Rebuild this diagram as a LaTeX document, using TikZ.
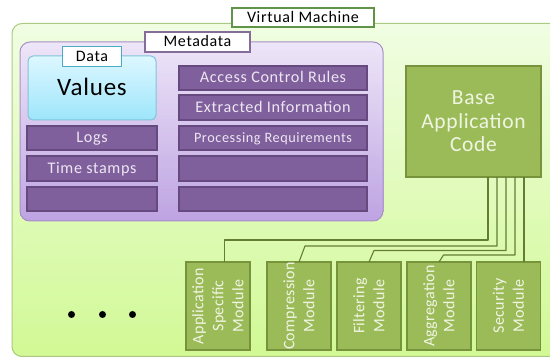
\documentclass[tikz,border=0pt]{standalone}
\usepackage{fontspec}
\setmainfont{Carlito}
\usetikzlibrary{calc}
\definecolor{purp}{HTML}{7F609D}
\definecolor{purpd}{HTML}{65497F}
\definecolor{purpedge}{HTML}{A88FC6}
\definecolor{grn}{HTML}{9BBB59}
\definecolor{grnd}{HTML}{77933C}
\definecolor{ptxt}{HTML}{EDE6F2}
\definecolor{gtxt}{HTML}{F0F5E3}
\definecolor{vmtop}{HTML}{F0FDE2}
\definecolor{vmbot}{HTML}{D2F996}
\definecolor{vmedge}{HTML}{ABC982}
\definecolor{mdtop}{HTML}{EDE5F8}
\definecolor{mdbot}{HTML}{BEA4E2}
\definecolor{valtop}{HTML}{DDF7FF}
\definecolor{valbot}{HTML}{9FE6FB}
\definecolor{valedge}{HTML}{7FC4DA}
\definecolor{dataedge}{HTML}{4BACC6}
\tikzset{
  x=1pt,y=-1pt,
  every node/.style={inner sep=0pt,outer sep=0pt,align=center},
  gradfill/.style 2 args={path picture={
    \foreach \i in {0,...,50}{
      \pgfmathsetmacro{\pc}{100-2*\i}
      \pgfmathsetmacro{\fr}{\i/51}
      \fill[#1!\pc!#2] ($(path picture bounding box.north west)!\fr!(path picture bounding box.south west)$) rectangle (path picture bounding box.south east);
    }}},
  pbox/.style={draw=purpd,fill=purp,line width=1.2pt,text=ptxt,minimum width=#1,minimum height=24pt,text height=11pt,text depth=1pt,font=\fontsize{16.2}{19}\selectfont\addfontfeature{LetterSpace=4}},
  gbox/.style={draw=grnd,fill=grn,line width=1.2pt,text=gtxt},
  modbox/.style={gbox,minimum width=64pt,minimum height=88pt},
  modtxt/.style={rotate=90,text=gtxt,font=\fontsize{16}{20}\selectfont\addfontfeature{LetterSpace=2}},
  tagbox/.style={fill=white,line width=1.2pt,text=black,text height=11pt,text depth=1pt,font=\fontsize{16}{19}\selectfont\addfontfeature{LetterSpace=4}},
  wire/.style={draw=grnd!85!black,line width=1.1pt,line join=round},
  dotmark/.style={circle,fill=black,minimum size=7pt}
}
\begin{document}
\begin{tikzpicture}
\useasboundingbox (0,0) rectangle (550,358);
\clip (0,0) rectangle (550,358);
\node[draw=vmedge,rounded corners=10pt,line width=1pt,gradfill={vmtop}{vmbot},minimum width=555pt,minimum height=333pt] (vm) at (289.5,190) {};
\node[tagbox,draw=vmedge!80!green!70!black,minimum width=142pt,minimum height=19pt] (vmtag) at (303,17.5) {Virtual Machine};
\node[draw=purpedge,rounded corners=10pt,line width=1pt,gradfill={mdtop}{mdbot},minimum width=363pt,minimum height=179pt] (meta) at (201.5,131.5) {};
\node[tagbox,draw=purpd!80!white,minimum width=105pt,minimum height=20pt] (metatag) at (197.5,42) {Metadata};
\node[draw=valedge,rounded corners=5pt,line width=1pt,gradfill={valtop}{valbot},minimum width=128pt,minimum height=64pt] (values) at (92,88) {};
\node[text height=18pt,text depth=2.6pt,font=\fontsize{25}{29}\selectfont\addfontfeature{LetterSpace=3}] (valtxt) at (values) {Values};
\node[tagbox,draw=dataedge,minimum width=59pt,minimum height=20pt] (datatag) at (92,56.5) {Data};
\node[pbox=130pt] (logs) at (92,138) {Logs};
\node[pbox=130pt,minimum height=25pt] (time) at (92,168.5) {Time stamps};
\node[pbox=130pt,minimum height=24pt] (blank1) at (92,199) {};
\node[pbox=188pt] (acr) at (273,78) {Access Control Rules};
\node[pbox=188pt,minimum height=25pt] (ext) at (273,107.5) {Extracted Information};
\node[pbox=188pt,font=\fontsize{14.3}{17}\selectfont\addfontfeature{LetterSpace=4}] (proc) at (273,138) {Processing Requirements};
\node[pbox=188pt,minimum height=25pt] (blank2) at (273,168.5) {};
\node[pbox=188pt] (blank3) at (273,199) {};
\node[gbox,minimum width=135pt,minimum height=111pt,font=\fontsize{21.5}{23.5}\selectfont\addfontfeature{LetterSpace=3}] (base) at (473.5,121.5) {Base\\Application\\Code};
\node[modbox] (m1) at (218,306) {};
\node[modbox] (m2) at (299,306) {};
\node[modbox] (m3) at (369,306) {};
\node[modbox] (m4) at (439,306) {};
\node[modbox] (m5) at (508.5,306) {};
\node[modtxt] (t1) at (m1) {Application\\Specific\\Module};
\node[modtxt] (t2) at (m2) {Compression\\Module};
\node[modtxt] (t3) at (m3) {Filtering\\Module};
\node[modtxt] (t4) at (m4) {Aggregation\\Module};
\node[modtxt] (t5) at (m5) {Security\\Module};
\draw[wire] ([xshift=14.5pt]base.south) |- (224.5,240) -- ([xshift=6.5pt]m1.north);
\draw[wire] ([xshift=23.5pt]base.south) |- (305,246) -- (m2.north);
\draw[wire] ([xshift=32.5pt]base.south) |- (374,250.5) -- (m3.north);
\draw[wire] ([xshift=41.5pt]base.south) |- (443.5,255) -- (m4.north);
\draw[wire] ([xshift=50.5pt]base.south) -- ([xshift=15.5pt]m5.north);
\node[dotmark] (d1) at (71.5,314.5) {};
\node[dotmark] (d2) at (102.5,314.5) {};
\node[dotmark] (d3) at (132.5,314.5) {};
\end{tikzpicture}
\end{document}
